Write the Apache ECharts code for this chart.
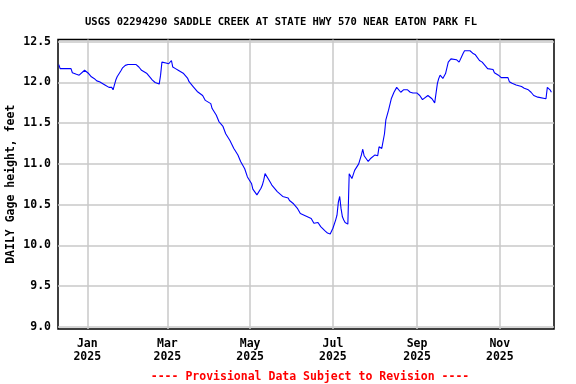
<!DOCTYPE html>
<html>
<head>
<meta charset="utf-8">
<script src="https://cdn.jsdelivr.net/npm/echarts@6.0.0/dist/echarts.min.js"></script>
<style>html,body{margin:0;padding:0;background:#fff;}#c{width:576px;height:384px;}</style>
</head>
<body>
<div id="c"></div>
<script>
const titleText = 'USGS 02294290 SADDLE CREEK AT STATE HWY 570 NEAR EATON PARK FL';
const yAxisTitle = 'DAILY Gage height, feet';
const footerText = '---- Provisional Data Subject to Revision ----';

const dates = [
'2024-12-11','2024-12-12','2024-12-20','2024-12-21','2024-12-24','2024-12-26','2024-12-27','2024-12-30','2024-12-31',
'2025-01-02','2025-01-03','2025-01-04','2025-01-05','2025-01-06','2025-01-07','2025-01-08','2025-01-10','2025-01-11',
'2025-01-14','2025-01-15','2025-01-17','2025-01-19','2025-01-20','2025-01-21','2025-01-22','2025-01-23','2025-01-26',
'2025-01-27','2025-01-29','2025-01-31','2025-02-06','2025-02-08','2025-02-10','2025-02-14','2025-02-16','2025-02-18',
'2025-02-20','2025-02-23','2025-02-24','2025-02-25','2025-02-28','2025-03-02','2025-03-04','2025-03-05','2025-03-07',
'2025-03-09','2025-03-10','2025-03-13','2025-03-14','2025-03-16','2025-03-17','2025-03-20','2025-03-23','2025-03-27',
'2025-03-29','2025-04-02','2025-04-03','2025-04-06','2025-04-08','2025-04-11','2025-04-13','2025-04-16','2025-04-19',
'2025-04-22','2025-04-24','2025-04-27','2025-04-29','2025-05-02','2025-05-03','2025-05-06','2025-05-09','2025-05-10',
'2025-05-11','2025-05-12','2025-05-15','2025-05-17','2025-05-21','2025-05-25','2025-05-29','2025-05-30','2025-06-02',
'2025-06-05','2025-06-07','2025-06-11','2025-06-15','2025-06-17','2025-06-20','2025-06-22','2025-06-25','2025-06-27',
'2025-06-29','2025-07-01','2025-07-03','2025-07-04','2025-07-05','2025-07-06','2025-07-07','2025-07-08','2025-07-09',
'2025-07-10','2025-07-11','2025-07-12','2025-07-13','2025-07-15','2025-07-17','2025-07-20','2025-07-22','2025-07-23',
'2025-07-24','2025-07-27','2025-07-29','2025-08-01','2025-08-03','2025-08-04','2025-08-05','2025-08-06','2025-08-08',
'2025-08-09','2025-08-11','2025-08-13','2025-08-15','2025-08-17','2025-08-18','2025-08-20','2025-08-22','2025-08-25',
'2025-08-27','2025-08-29','2025-09-01','2025-09-03','2025-09-05','2025-09-09','2025-09-12','2025-09-14','2025-09-15',
'2025-09-16','2025-09-17','2025-09-18','2025-09-20','2025-09-21','2025-09-22','2025-09-24','2025-09-26','2025-09-27',
'2025-09-30','2025-10-02','2025-10-03','2025-10-05','2025-10-06','2025-10-10','2025-10-12','2025-10-14','2025-10-17',
'2025-10-19','2025-10-21','2025-10-23','2025-10-27','2025-10-28','2025-10-31','2025-11-02','2025-11-07','2025-11-08',
'2025-11-10','2025-11-13','2025-11-17','2025-11-19','2025-11-22','2025-11-24','2025-11-26','2025-11-29','2025-11-30',
'2025-12-05','2025-12-06','2025-12-08','2025-12-09'
];
const gageHeight = [
12.22,12.17,12.17,12.12,12.10,12.09,12.11,12.15,12.14,
12.11,12.09,12.07,12.08,12.05,12.03,12.02,12.01,11.99,
11.97,11.95,11.94,11.94,11.91,11.97,12.03,12.07,12.15,
12.18,12.21,12.22,12.22,12.19,12.15,12.11,12.07,12.03,
12.00,11.98,12.09,12.25,12.24,12.23,12.27,12.19,12.17,
12.15,12.16,12.11,12.11,12.05,12.01,11.95,11.89,11.84,
11.78,11.74,11.68,11.60,11.52,11.46,11.37,11.29,11.19,
11.11,11.03,10.94,10.84,10.76,10.69,10.62,10.70,10.74,
10.80,10.88,10.80,10.74,10.66,10.60,10.58,10.55,10.51,
10.45,10.39,10.36,10.33,10.27,10.28,10.23,10.18,10.15,
10.14,10.21,10.31,10.37,10.53,10.60,10.45,10.35,10.31,
10.28,10.26,10.26,10.88,10.82,10.92,11.00,11.11,11.18,
11.10,11.03,11.07,11.11,11.10,11.21,11.23,11.19,11.37,
11.54,11.66,11.80,11.88,11.94,11.93,11.88,11.91,11.91,
11.88,11.87,11.87,11.84,11.79,11.84,11.80,11.75,11.74,
11.99,12.05,12.09,12.05,12.04,12.11,12.25,12.29,12.31,
12.28,12.25,12.27,12.36,12.39,12.39,12.36,12.34,12.27,
12.25,12.21,12.17,12.16,12.12,12.09,12.06,12.06,12.01,
11.99,11.97,11.95,11.93,11.91,11.88,11.84,11.82,11.80,
11.80,11.94,11.91,11.88
];
const yTicks = [9.0, 9.5, 10.0, 10.5, 11.0, 11.5, 12.0, 12.5];
const xTickDates = ['2025-01-01','2025-03-01','2025-05-01','2025-07-01','2025-09-01','2025-11-01'];
const monthNames = ['Jan','Feb','Mar','Apr','May','Jun','Jul','Aug','Sep','Oct','Nov','Dec'];

function ts(s){ const p = s.split('-').map(Number); return new Date(p[0], p[1]-1, p[2]).getTime(); }
const seriesData = dates.map((d, i) => [ts(d), gageHeight[i]]);
const xTicks = xTickDates.map(ts);
const xMin = ts('2024-12-10') + 10*3600*1000;
const xMax = ts('2025-12-10') + 22*3600*1000;

const font = 'DejaVu Sans Mono';
const chart = echarts.init(document.getElementById('c'), null, {renderer:'canvas'});
chart.setOption({
  backgroundColor: '#ffffff',
  animation: false,
  title: [
    { text: titleText, left: 276, top: 12, textAlign: 'center',
      textStyle: { fontFamily: font, fontSize: 10.5, fontWeight: 'bold', color: '#000' } },
    { text: footerText, left: 305, top: 366, textAlign: 'center',
      textStyle: { fontFamily: font, fontSize: 11.5, fontWeight: 'bold', color: '#ff0000' } }
  ],
  grid: { left: 58, right: 22, top: 39.5, bottom: 55, outerBoundsMode: 'none', containLabel: false,
          show: true, borderColor: '#000', borderWidth: 1.5, backgroundColor: '#fff' },
  xAxis: {
    type: 'value', min: xMin, max: xMax, scale: true,
    axisLine: { show: false },
    axisTick: { show: false, customValues: xTicks },
    splitLine: { show: true, lineStyle: { color: '#c8c8c8', width: 1.5 } },
    axisLabel: {
      customValues: xTicks, margin: 9, lineHeight: 13,
      fontFamily: font, fontSize: 11.5, fontWeight: 'bold', color: '#000',
      formatter: function (v) { const d = new Date(v); return monthNames[d.getMonth()] + '\n' + d.getFullYear(); }
    }
  },
  yAxis: {
    type: 'value', min: 8.972, max: 12.528,
    name: yAxisTitle, nameLocation: 'middle', nameRotate: 90, nameGap: 41, nameMoveOverlap: false,
    nameTextStyle: { fontFamily: font, fontSize: 11.5, fontWeight: 'bold', color: '#000' },
    axisLine: { show: false },
    axisTick: { show: false, customValues: yTicks },
    splitLine: { show: true, lineStyle: { color: '#c8c8c8', width: 1.5 } },
    axisLabel: {
      customValues: yTicks, margin: 7,
      fontFamily: font, fontSize: 11.5, fontWeight: 'bold', color: '#000',
      formatter: function (v) { return v.toFixed(1); }
    }
  },
  series: [{
    type: 'line', data: seriesData, showSymbol: false, smooth: false,
    lineStyle: { color: '#0000ff', width: 1.1 }, itemStyle: { color: '#0000ff' }
  }]
});
</script>
</body>
</html>
